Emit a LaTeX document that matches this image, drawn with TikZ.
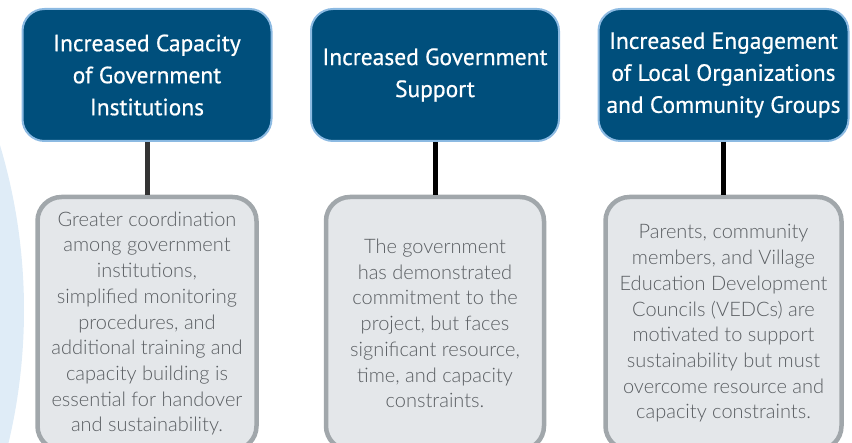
\documentclass[tikz,border=0pt]{standalone}
\usepackage{fontspec}
\setmainfont{Lato}[UprightFont={* Light}]
\newfontfamily\headfont{PT Sans}[FakeBold=0.6]
\definecolor{navy}{RGB}{0,79,124}
\definecolor{skyline}{RGB}{140,186,226}
\definecolor{paleblue}{RGB}{223,236,247}
\definecolor{panel}{RGB}{228,231,234}
\definecolor{panelline}{RGB}{161,167,171}
\definecolor{bodytext}{RGB}{90,94,98}
\definecolor{stem}{RGB}{51,51,51}
\usetikzlibrary{positioning}

\begin{document}
\begin{tikzpicture}[x=1pt,y=-1pt,
    outcome/.style={draw=skyline, line width=2pt, fill=navy,
        rounded corners=22pt, minimum height=132pt, inner sep=0pt,
        align=center, text=white,
        font=\headfont\fontsize{23.5}{32}\selectfont},
    finding/.style={draw=panelline, line width=4.5pt, fill=panel,
        rounded corners=24pt, minimum height=253pt, inner sep=0pt,
        align=center, text=bodytext,
        font=\fontsize{20}{25.7}\selectfont},
    link/.style={line width=5pt}]
        \useasboundingbox (0,0) rectangle (852,443);
        \clip (0,0) rectangle (852,443);
        % pale disc behind the left column
        \fill[paleblue] (-550,310) circle[radius=574pt];
        % outcome headers
        \node[outcome, minimum width=249pt] (cap) at (147,75)
            {Increased Capacity\\of Government\\Institutions};
        \node[outcome, minimum width=248pt] (sup) at (435,75)
            {Increased Government\\Support};
        \node[outcome, minimum width=250pt] (eng) at (723.5,75)
            {Increased Engagement\\of Local Organizations\\and Community Groups};
        % findings under each header
        \node[finding, minimum width=219pt] (capnote) at (147,323.5)
            {Greater coordination\\among government\\institutions,\\simplified monitoring\\procedures, and\\additional training and\\capacity building is\\essential for handover\\and sustainability.};
        \node[finding, minimum width=218pt] (supnote) at (435,323.5)
            {The government\\has demonstrated\\commitment to the\\project, but faces\\significant resource,\\time, and capacity\\constraints.};
        \node[finding, minimum width=236pt] (engnote) at (723.5,323.5)
            {Parents, community\\members, and Village\\Education Development\\Councils (VEDCs) are\\motivated to support\\sustainability but must\\overcome resource and\\capacity constraints.};
        \draw[link, stem] (cap.south) -- (capnote.north);
        \draw[link, black] (sup.south) -- (supnote.north);
        \draw[link, black] (eng.south) -- (engnote.north);
\end{tikzpicture}
\end{document}
